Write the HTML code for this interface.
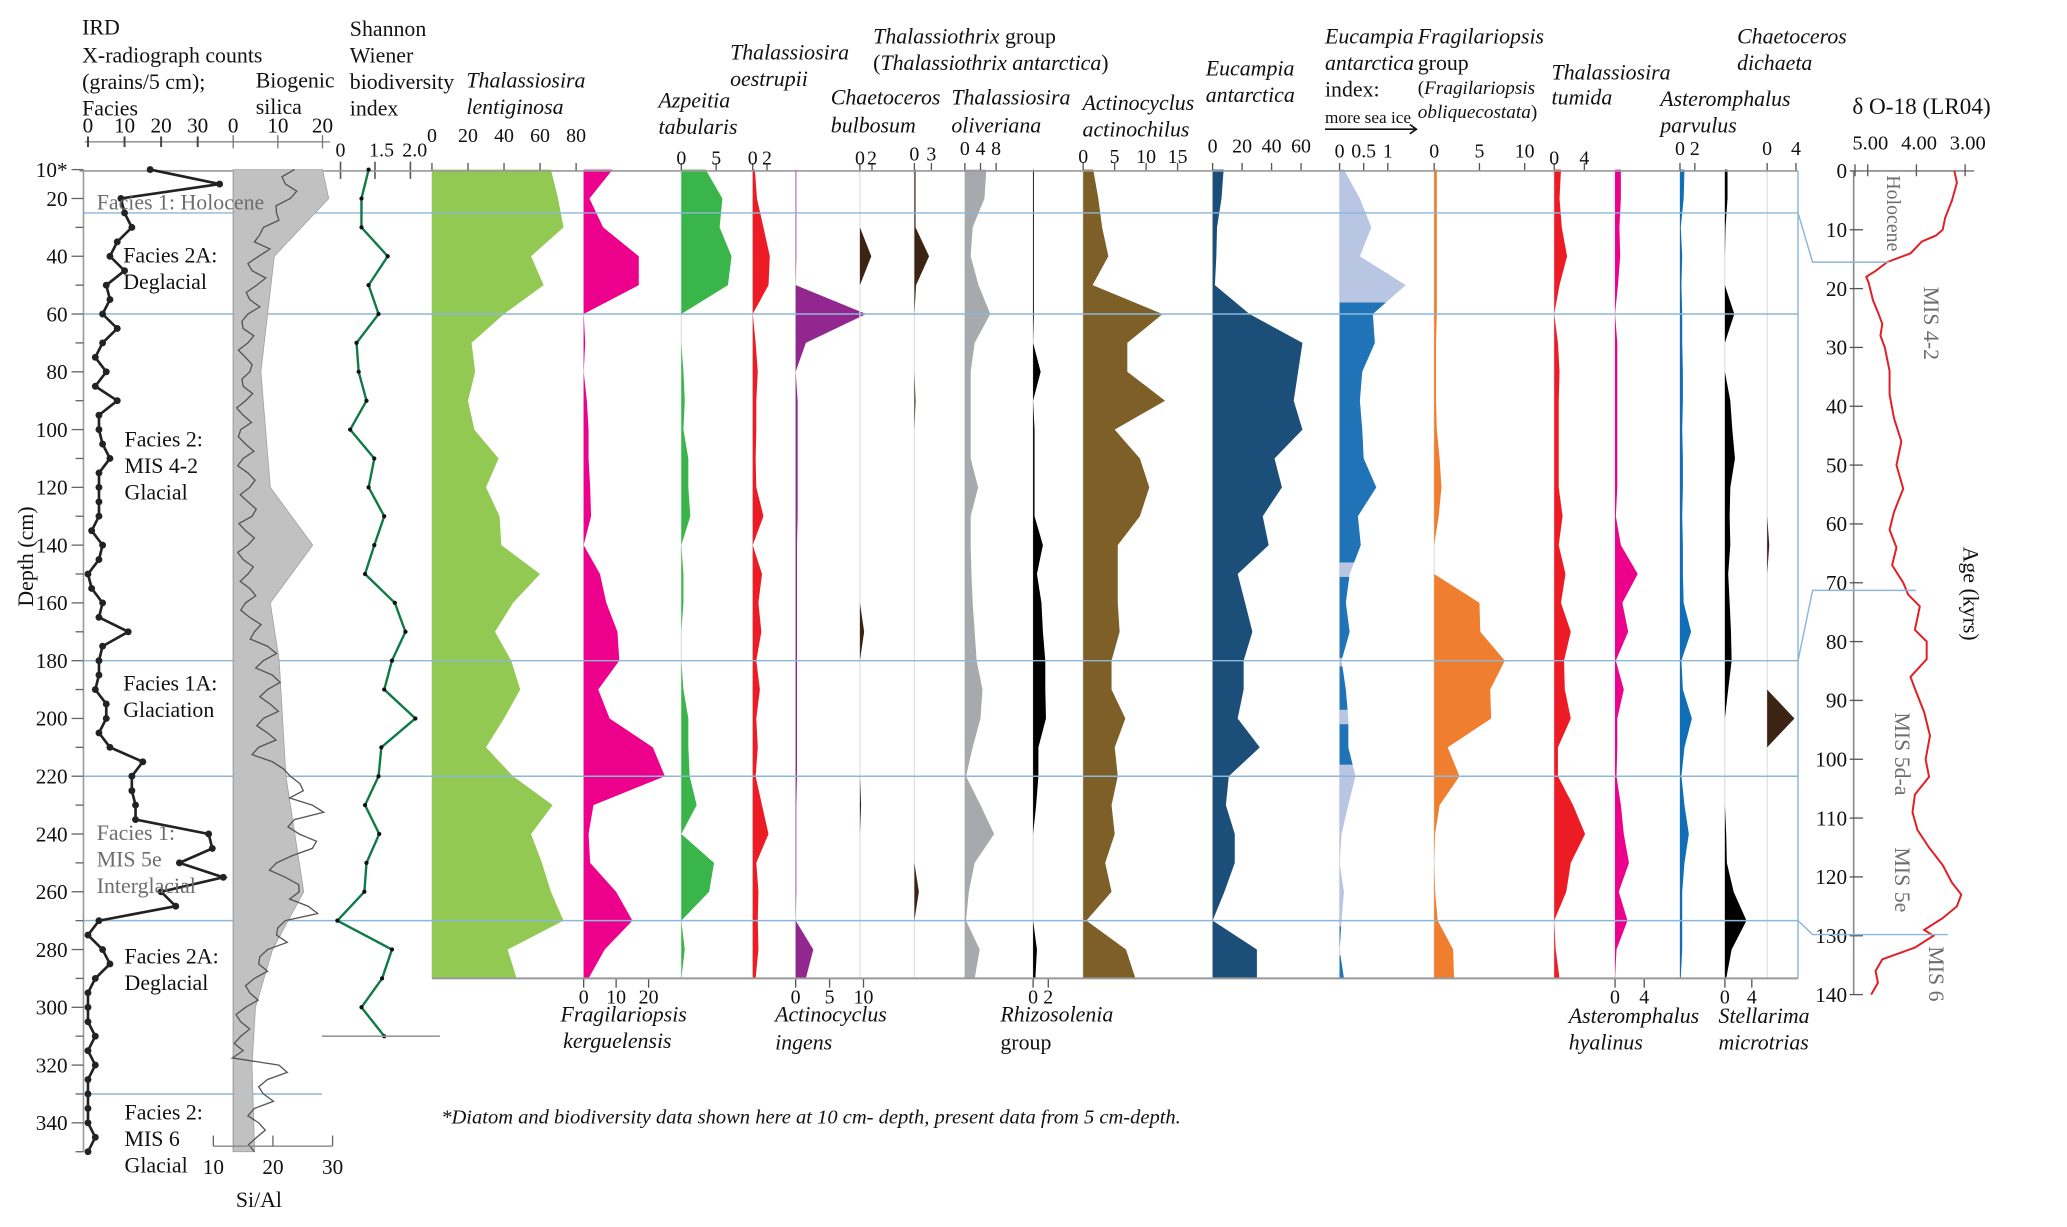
<!DOCTYPE html>
<html><head><meta charset="utf-8"><title>Core diatom stratigraphy</title>
<style>
html,body{margin:0;padding:0;background:#fff;}
svg{display:block;font-family:"Liberation Serif",serif;}
.t{font-size:16.5px;fill:#111;}
.n{font-size:15px;fill:#111;}
.i{font-style:italic;}
.g{fill:#6d6d6d;}
</style></head>
<body>
<svg id="chart" xmlns="http://www.w3.org/2000/svg" width="2067" height="1227" viewBox="0 0 1560 926" preserveAspectRatio="none">
<g id="marks"></g>
<g id="texts">
<text class="t" x="62" y="26">IRD</text>
<text class="t" x="62" y="47">X-radiograph counts</text>
<text class="t" x="62" y="67">(grains/5 cm);</text>
<text class="t" x="62" y="87">Facies</text>
<text class="t" x="193" y="66">Biogenic</text>
<text class="t" x="193" y="86">silica</text>
<text class="t" x="264" y="27">Shannon</text>
<text class="t" x="264" y="47">Wiener</text>
<text class="t" x="264" y="67">biodiversity</text>
<text class="t" x="264" y="87">index</text>
<text class="t i" x="352" y="66">Thalassiosira</text>
<text class="t i" x="352" y="86">lentiginosa</text>
<text class="t i" x="497" y="81">Azpeitia</text>
<text class="t i" x="497" y="101">tabularis</text>
<text class="t i" x="551" y="45">Thalassiosira</text>
<text class="t i" x="551" y="65">oestrupii</text>
<text class="t" x="659" y="33"><tspan class="i">Thalassiothrix</tspan> group</text>
<text class="t" x="659" y="53">(<tspan class="i">Thalassiothrix antarctica</tspan>)</text>
<text class="t i" x="627" y="79">Chaetoceros</text>
<text class="t i" x="627" y="100">bulbosum</text>
<text class="t i" x="718" y="79">Thalassiosira</text>
<text class="t i" x="718" y="100">oliveriana</text>
<text class="t i" x="817" y="83">Actinocyclus</text>
<text class="t i" x="817" y="103">actinochilus</text>
<text class="t i" x="910" y="57">Eucampia</text>
<text class="t i" x="910" y="77">antarctica</text>
<text class="t i" x="1000" y="33">Eucampia</text>
<text class="t i" x="1000" y="53">antarctica</text>
<text class="t" x="1000" y="73">index:</text>
<text class="n" x="1000" y="93" style="font-size:13px">more sea ice</text>
<text class="t i" x="1070" y="33">Fragilariopsis</text>
<text class="t" x="1070" y="53">group</text>
<text class="t" x="1070" y="71" style="font-size:14.5px">(<tspan class="i">Fragilariopsis</tspan></text>
<text class="t i" x="1070" y="89" style="font-size:14.5px">obliquecostata<tspan style="font-style:normal">)</tspan></text>
<text class="t i" x="1171" y="60">Thalassiosira</text>
<text class="t i" x="1171" y="79">tumida</text>
<text class="t i" x="1253" y="80">Asteromphalus</text>
<text class="t i" x="1253" y="100">parvulus</text>
<text class="t i" x="1311" y="33">Chaetoceros</text>
<text class="t i" x="1311" y="53">dichaeta</text>
<text class="t" x="1398" y="86" style="font-size:17.5px">δ O-18 (LR04)</text>
<text class="t i" x="423" y="771">Fragilariopsis</text>
<text class="t i" x="425" y="791">kerguelensis</text>
<text class="t i" x="585" y="771">Actinocyclus</text>
<text class="t i" x="585" y="792">ingens</text>
<text class="t i" x="755" y="771">Rhizosolenia</text>
<text class="t" x="755" y="792">group</text>
<text class="t i" x="1184" y="772">Asteromphalus</text>
<text class="t i" x="1184" y="792">hyalinus</text>
<text class="t i" x="1297" y="772">Stellarima</text>
<text class="t i" x="1297" y="792">microtrias</text>
<text class="t i" x="333" y="848" style="font-size:15.5px">*Diatom and biodiversity data shown here at 10 cm- depth, present data from 5 cm-depth.</text>
<text class="t" x="178" y="911">Si/Al</text>
<text class="t" transform="translate(25,420) rotate(-90)" text-anchor="middle">Depth (cm)</text>
<text class="t" transform="translate(1482,448) rotate(90)" text-anchor="middle">Age (kyrs)</text>
<text class="t g" transform="translate(1424,161) rotate(90)" text-anchor="middle" style="font-size:15px">Holocene</text>
<text class="t g" transform="translate(1452,244) rotate(90)" text-anchor="middle">MIS 4-2</text>
<text class="t g" transform="translate(1430,569) rotate(90)" text-anchor="middle">MIS 5d-a</text>
<text class="t g" transform="translate(1430,664) rotate(90)" text-anchor="middle">MIS 5e</text>
<text class="t g" transform="translate(1456,735) rotate(90)" text-anchor="middle">MIS 6</text>
<text class="t g" x="73" y="158">Facies 1: Holocene</text>
<text class="t" x="93" y="198">Facies 2A:</text>
<text class="t" x="93" y="218">Deglacial</text>
<text class="t" x="94" y="337">Facies 2:</text>
<text class="t" x="94" y="357">MIS 4-2</text>
<text class="t" x="94" y="377">Glacial</text>
<text class="t" x="93" y="521">Facies 1A:</text>
<text class="t" x="93" y="541">Glaciation</text>
<text class="t g" x="73" y="634">Facies 1:</text>
<text class="t g" x="73" y="654">MIS 5e</text>
<text class="t g" x="73" y="674">Interglacial</text>
<text class="t" x="94" y="727">Facies 2A:</text>
<text class="t" x="94" y="747">Deglacial</text>
<text class="t" x="94" y="845">Facies 2:</text>
<text class="t" x="94" y="865">MIS 6</text>
<text class="t" x="94" y="885">Glacial</text>
</g>
</svg>
<script>
const depths = [10,20,30,40,50,60,70,80,90,100,110,120,130,140,150,160,170,180,190,200,210,220,230,240,250,260,270,280,290];
const lentiginosa = [66,70,73,55,62,40,22,24,20,23.5,37,30,37.5,38.5,60,45,35,44,49,40,30,45,67,55,61,66,73,42,47];
const kerguelensis = [8.9,1.8,6,17,17,0,0.5,0,1,1.5,1.5,2,2.3,0,5,7,10.4,11,4.5,8,21.3,25,3,1.5,2,10,15,6.5,1.5];
const azpeitia = [3.5,5.9,5.5,7.2,6.7,0,0,0.3,0.5,0.3,1,1,1.3,0,0.3,0.3,0,0,0.3,1,1,1.2,2.2,0,4.7,4,0,0.5,0];
const oestrupii = [0.3,0.6,1.5,2.4,2.2,0,0.4,0.7,0.5,0.5,0.4,0.5,1.5,0,1.3,0.8,1.2,0.5,1,0.5,0.7,0.4,1.3,2.2,0.5,0.8,0.7,0.8,0.4];
const ingens = [0.1,0.1,0.1,0.1,0,10.4,1.5,0,0.3,0.3,0.3,0.3,0.3,0.2,0.2,0.2,0.2,0.2,0.2,0.2,0.2,0.2,0.1,0.1,0.1,0.1,0,2.6,1.5];
const bulbosum = [0,0,0,1.9,0,0,0,0,0,0,0,0,0,0,0,0,0.7,0,0,0,0,0,0.2,0,0,0,0,0,0];
const thalassiothrix = [0.2,0.2,0.2,2.6,0.3,0,0,0,0.2,0,0,0,0,0,0,0,0,0,0,0,0,0,0,0,0,0.8,0,0,0];
const oliveriana = [5.5,5,2,1.5,3.5,6.5,2.5,1.5,1.5,1.5,1.5,3.4,1.5,1.5,1.7,2,2.5,3,4.5,4,2,0.3,4,7.5,2.5,1,0.3,3.8,2.5];
const rhizosolenia = [0.1,0.1,0.1,0.1,0.1,0.1,0,1,0,0.2,0.2,0.2,0.2,1.3,0.5,1.1,1.3,1.6,1.6,1.7,0.7,0.7,0.4,0,0,0,0,0.5,0.3];
const actinochilus = [1.6,2.4,3,4,1.5,12.6,7,7,13,5,9,10.5,9,5.5,5.5,5.5,5.8,4.5,4.5,6.7,5,5.5,4.5,5,3.5,4.5,0.5,6.8,8.3];
const eucampia = [7.5,6,3,2.5,1.5,25,61,58,55,61,42,47,34,38,17,22,27,21,21,17,32,11,9,15,15,8,0,30,30];
const eIndex = [0.09,0.42,0.66,0.42,1.37,0.69,0.73,0.47,0.42,0.47,0.5,0.76,0.38,0.44,0.21,0.13,0.21,0.04,0.13,0.18,0.18,0.33,0.18,0.04,0,0.09,0.04,0,0.09];
const eIndexDarkFrom = [56,151,182,202,272,282];
const eIndexDarkTo = [146,179,197,216,279,290];
const fragGroup = [0.3,0.3,0.3,0.3,0.3,0.3,0.2,0.2,0.2,0.3,0.6,0.8,0.5,0,0,5,5.1,7.8,6.2,6.3,1.5,2.8,0.6,0.1,0,0.1,0.4,2.1,2.2];
const tumida = [0.9,0.7,1,1.7,0.7,0,0.5,0.7,0.6,0.6,0.6,0.6,1.1,0.6,1.5,0.9,2.2,1.3,1.4,2.2,0.5,0.5,2.5,4.1,2.2,1.6,0,0.2,0.7];
const hyalinus = [0.8,0.8,0.6,0.7,0.4,0,0.3,0.3,0.3,0.3,0.3,0.3,0.1,0.8,3.1,1,1.8,0.1,1.2,0.3,0.3,0.2,0.8,1.2,1.9,0.5,1.7,0.2,0];
const parvulus = [0.6,0.5,0.1,0.3,0.2,0.3,0.3,0.4,0.4,0.3,0.4,0.4,0.3,0.4,0.4,0.5,1.5,0.2,0.4,1.6,0.6,0.2,0.6,1.2,0.6,0.3,0.3,0.3,0.1];
const stellarima = [0.4,0.4,0.1,0,0,1.4,0,0,0.8,1.1,1.5,0.8,0.7,0.8,0.5,0.7,0.9,1,0.5,0,0,0,0,0.2,0.3,1.3,3.2,1,0.2];
const dichaeta = [0,0,0,0,0,0,0,0,0,0,0,0,0,0.3,0,0,0,0,0,3.8,0,0,0,0,0,0,0,0,0];

const shannonDepths = [10,20,30,40,50,60,70,80,90,100,110,120,130,140,150,160,170,180,190,200,210,220,230,240,250,260,270,280,290,300,310];
const shannon = [1.41,1.31,1.31,1.68,1.41,1.55,1.24,1.27,1.38,1.15,1.49,1.41,1.63,1.49,1.36,1.78,1.93,1.74,1.63,2.07,1.59,1.55,1.36,1.56,1.38,1.35,0.97,1.74,1.6,1.31,1.63];

const irdStart = 10, irdStep = 5;
const ird = [17,36,9,10,12,8,6,10,5,6,4,8,4,2,5,2,8,3,3,4,6,3,3,3,3,1,4,3,0,1,4,3,11,4,3,3,2,5,5,3,6,15,12,12,13,13,33,34,25,37,20,24,3,0,4,6,2,0,0,0,2,0,2,0,0,0,0,2,0];

const silicaDepths = [10,20,40,80,120,140,160,180,220,260,280,300,320,350];
const silica = [20,21.4,9.2,6.2,8.3,17.8,8.3,10.3,11.8,15.8,8.8,5,4.2,4.8];

const siAl = [23.6,22.1,22.9,20.6,18.4,16.9,17.6,16.5,17.3,16.1,15.8,15,15.8,15.4,16.1,15,15.4,15,14.6,15.4,15,15.8,16.1,15.8,16.5,15.4,15.8,15,15.8,16.1,15.4,16.1,16.9,19.1,18.4,19.9,19.1,19.5,18.4,19.1,17.6,19.9,22.9,25.1,26.6,23.6,24.4,26.6,20.6,22.1,24.4,25.9,22.1,20.6,19.1,17.6,16.9,16.1,15.4,14.6,14.6,15,21,19.1,18.4,16.9,17.6,17.3,16.9];
const siAlMid = [21.5,24,20.5,21,17.8,19.5,15.8,18.8,15.5,17.8,14.8,16.8,14.2,16.5,14.8,16.6,13.9,16.4,14.2,16.8,14.1,17,14.5,17.2,14.3,16.9,14.1,16.7,14.5,17.1,14.6,18,16.2,20.6,17.1,21.2,17.8,20.9,17.3,20.5,16.5,21.8,24.5,22.8,28.5,22.5,27.3,23.2,19.4,24.3,22.8,27.5,20.8,22.4,17.8,19.1,15.4,17.5,13.8,16.1,13.5,13.2,22.4,17.6,20.1,15.8,18.7,15.9];

const ages = [0,2,5,8,10,11,12,14,15.5,17,18,19,22,24,26,28,30,34,38,42,46,50,54,58,61,64,67,70,72,74,76,78,80,83,86,88,92,96,100,103,106,109,112,115,118,121,123,125,127,129,130,132,134,136,138,140];
const d18O = [3.22,3.17,3.27,3.41,3.46,3.6,3.89,4.12,4.6,4.84,5.03,4.98,4.89,4.79,4.7,4.74,4.65,4.55,4.55,4.46,4.31,4.41,4.27,4.46,4.55,4.41,4.5,4.27,4.17,3.93,3.98,4.03,3.79,3.79,4.12,4.03,3.84,3.72,3.81,3.74,4.03,4.08,3.98,3.74,3.46,3.27,3.08,3.17,3.46,3.84,3.65,4.03,4.7,4.84,4.79,4.93];

const faciesBounds = [25,60,180,220,270];
const depthTickLabels = ['10*','20','40','60','80','100','120','140','160','180','200','220','240','260','280','300','320','340'];
const ageTicks = [0,10,20,30,40,50,60,70,80,90,100,110,120,130,140];
const d18OTicks = [5,4,3];
const d18OTickLabels = ['5.00','4.00','3.00'];

const NS = 'http://www.w3.org/2000/svg';
const G = document.getElementById('marks');
const Y = d => 128 + (d - 10) * 2.18;
const AY = a => 129 + a * 4.44;
const OX = v => 1409.6 + (5 - v) * 36.75;
function mk(tag, attrs, parent) {
  const e = document.createElementNS(NS, tag);
  for (const k in attrs) e.setAttribute(k, attrs[k]);
  (parent || G).appendChild(e);
  return e;
}
function line(x1, y1, x2, y2, stroke, w) {
  const l = mk('line', {x1, y1, x2, y2, stroke, 'stroke-width': w});
  
  
  return l;
}
function label(x, y, txt, anchor, size) {
  const t = mk('text', {x, y, 'text-anchor': anchor || 'middle', 'font-size': size || 15, fill: '#111'});
  t.textContent = txt;
  
  
  return t;
}

// Diatom panels
const panels = [
  {name:'lentiginosa', vals:lentiginosa, x0:326, s:1.36, color:'#92c953', ticks:[0,20,40,60,80], top:true, ly:107},
  {name:'kerguelensis', vals:kerguelensis, x0:440.5, s:2.45, color:'#ec008c', ticks:[0,10,20], top:false},
  {name:'azpeitia', vals:azpeitia, x0:514.2, s:5.26, color:'#39b54a', ticks:[0,5], top:true, ly:124},
  {name:'oestrupii', vals:oestrupii, x0:568.1, s:5.39, color:'#ed1c24', ticks:[0,2], top:true, ly:124},
  {name:'ingens', vals:ingens, x0:600.5, s:5.12, color:'#92278f', ticks:[0,5,10], top:false},
  {name:'bulbosum', vals:bulbosum, x0:649, s:4.55, color:'#3c2415', ticks:[0,2], top:true, ly:124},
  {name:'thalassiothrix', vals:thalassiothrix, x0:690.1, s:4.28, color:'#3c2415', ticks:[0,3], top:true, ly:121},
  {name:'oliveriana', vals:oliveriana, x0:728.2, s:2.95, color:'#a7a9ac', ticks:[0,4,8], top:true, ly:117},
  {name:'rhizosolenia', vals:rhizosolenia, x0:779.7, s:5.73, color:'#000000', ticks:[0,2], top:false},
  {name:'actinochilus', vals:actinochilus, x0:817.5, s:4.75, color:'#7d5f27', ticks:[0,5,10,15], top:true, ly:123},
  {name:'eucampia', vals:eucampia, x0:915.2, s:1.112, color:'#1b4f7a', ticks:[0,20,40,60], top:true, ly:115},
  {name:'eucampia-index', vals:eIndex, x0:1011, s:36.4, color:'#b8c6e4', ticks:[0,0.5,1], top:true, ly:119},
  {name:'fragilariopsis-group', vals:fragGroup, x0:1082.4, s:6.83, color:'#ef7f2e', ticks:[0,5,10], top:true, ly:119},
  {name:'tumida', vals:tumida, x0:1173, s:5.69, color:'#ed1c24', ticks:[0,4], top:true, ly:124},
  {name:'hyalinus', vals:hyalinus, x0:1218.9, s:5.51, color:'#ec008c', ticks:[0,4], top:false},
  {name:'parvulus', vals:parvulus, x0:1267.9, s:5.6, color:'#0f6eb5', ticks:[0,2], top:true, ly:117},
  {name:'stellarima', vals:stellarima, x0:1301.8, s:5.08, color:'#000000', ticks:[0,4], top:false},
  {name:'dichaeta', vals:dichaeta, x0:1333.7, s:5.43, color:'#3c2415', ticks:[0,4], top:true, ly:117}
];
const BOT = Y(290);
panels.forEach(p => {
  const b = line(p.x0, 129, p.x0, BOT, '#e2e2e2', 1);
  
  let pts = p.x0 + ',' + Y(depths[0]) + ' ';
  p.vals.forEach((v, i) => { pts += (p.x0 + v * p.s).toFixed(1) + ',' + Y(depths[i]).toFixed(1) + ' '; });
  pts += p.x0 + ',' + Y(depths[depths.length - 1]);
  const poly = mk('polygon', {points: pts, fill: p.color});
  
  
  if (p.name === 'eucampia-index') {
    const cp = mk('clipPath', {id: 'eiclip'});
    mk('polygon', {points: pts}, cp);
    eIndexDarkFrom.forEach((d0, k) => {
      const r = mk('rect', {x: p.x0 - 1, y: Y(d0), width: 60, height: Y(eIndexDarkTo[k]) - Y(d0), fill: '#2173b8', 'clip-path': 'url(#eiclip)'});
      
      
    });
  }
  p.ticks.forEach(t => {
    const x = p.x0 + t * p.s;
    if (p.top) { line(x, 129, x, 123, '#555', 1); label(x, p.ly, String(t)); }
    else { line(x, BOT, x, BOT + 7, '#555', 1); label(x, BOT + 19, String(t)); }
  });
});
line(326, 129, 1357, 129, '#999', 1.2);
line(326, BOT, 1357, BOT, '#999', 1.5);

// Depth axis
line(63, 128, 63, Y(350), '#999', 1.2);
line(60, 129, 245, 129, '#999', 1.2);
for (let d = 10; d <= 350; d += 10) {
  const major = (d === 10) || (d % 20 === 0);
  line(major ? 54 : 57, Y(d), 63, Y(d), '#666', 1);
}
depthTickLabels.forEach((t, i) => {
  const d = i === 0 ? 10 : i * 20;
  label(51, Y(d) + 5.5, t, 'end', 16);
});

// IRD / silica top axes
line(64, 107, 249, 107, '#999', 1.2);
[0,10,20,30].forEach(t => { const x = 66.4 + t * 2.76; line(x, 103, x, 111, '#444', 1.5); label(x, 100, String(t), 'middle', 16); });
[0,10,20].forEach(t => { const x = 176 + t * 3.37; line(x, 102, x, 112, '#777', 1); label(x, 100, String(t), 'middle', 16); });

// facies lines
faciesBounds.forEach(d => {
  const l = line(63, Y(d), 1357, Y(d), '#8cb6da', 1.1);
  
});
line(63, Y(330), 243, Y(330), '#8cb6da', 1.1);
line(1357, 129, 1357, BOT, '#8cb6da', 1.1);

// biogenic silica envelope
let sp = '176,' + Y(10) + ' ';
silicaDepths.forEach((d, i) => { sp += (176 + silica[i] * 3.37).toFixed(1) + ',' + Y(d).toFixed(1) + ' '; });
sp += '176,' + Y(350);
const sil = mk('polygon', {points: sp, fill: '#c1c1c1', stroke: '#a0a0a0', 'stroke-width': 0.6});


line(176, 129, 176, Y(350), '#a0a0a0', 0.8);

// Si/Al line
let sa = '';
siAl.forEach((v, i) => {
  const d = 10 + i * 5;
  sa += (161 + (v - 10) * 4.5).toFixed(1) + ',' + Y(d).toFixed(1) + ' ';
  if (i < siAlMid.length) sa += (161 + (siAlMid[i] - 10) * 4.5).toFixed(1) + ',' + Y(d + 2.5).toFixed(1) + ' ';
});
const sal = mk('polyline', {points: sa, fill: 'none', stroke: '#555', 'stroke-width': 1});


line(161, 865, 251, 865, '#888', 1);
[10,20,30].forEach(t => { const x = 161 + (t - 10) * 4.5; line(x, 857, x, 865, '#666', 1); label(x, 886, String(t), 'middle', 16); });

// IRD line
let ip = '';
ird.forEach((v, i) => { ip += (66.4 + v * 2.76).toFixed(1) + ',' + Y(irdStart + i * irdStep).toFixed(1) + ' '; });
const irl = mk('polyline', {points: ip, fill: 'none', stroke: '#222', 'stroke-width': 2});


ird.forEach((v, i) => {
  const c = mk('circle', {cx: 66.4 + v * 2.76, cy: Y(irdStart + i * irdStep), r: 2.6, fill: '#222'});
  
  
});

// Shannon
const SX = v => 283 + (v - 1.5) * 53.5;
line(257, 122, 257, 135, '#555', 1.2);
[[1.5,'1.5'],[2.0,'2.0']].forEach(t => { line(SX(t[0]), 122, SX(t[0]), 135, '#555', 1.2); });
label(257, 118, '0'); label(288, 118, '1.5'); label(313, 118, '2.0');
line(245, 129, 326, 129, '#999', 1.2);
let shp = '';
shannon.forEach((v, i) => { shp += SX(v).toFixed(1) + ',' + Y(shannonDepths[i]).toFixed(1) + ' '; });
const shl = mk('polyline', {points: shp, fill: 'none', stroke: '#0e7a46', 'stroke-width': 1.8});


shannon.forEach((v, i) => {
  const c = mk('circle', {cx: SX(v), cy: Y(shannonDepths[i]), r: 1.6, fill: '#111'});
  
  
});
line(243, Y(310), 332, Y(310), '#999', 1.2);

// sea ice arrow
line(1000, 97.5, 1069, 97.5, '#111', 1.2);
mk('polyline', {points: '1064,94 1069,97.5 1064,101', fill: 'none', stroke: '#111', 'stroke-width': 1.2});

// Age axis & d18O
line(1399, 129, 1399, AY(140), '#888', 1.2);
ageTicks.forEach(a => { line(1396, AY(a), 1406, AY(a), '#555', 1); label(1394, AY(a) + 5.5, String(a), 'end', 16); });
line(1399, 129, 1490, 129, '#888', 1.2);
d18OTicks.forEach((v, i) => { line(OX(v), 124, OX(v), 133, '#555', 1); label(OX(v) + 2, 113, d18OTickLabels[i], 'middle', 15.5); });
line(1400, 124, 1400, 133, '#555', 1);
let op = '';
ages.forEach((a, i) => { op += OX(d18O[i]).toFixed(1) + ',' + AY(a).toFixed(1) + ' '; });
const ol = mk('polyline', {points: op, fill: 'none', stroke: '#e31e24', 'stroke-width': 1.5});



// tie lines depth -> age
const tieDepth = [25,180,270];
const tieAge = [15.5,71.3,129.8];
const tieEnd = [1426,1446,1470];
tieDepth.forEach((d, i) => {
  const pl = mk('polyline', {points: `1357,${Y(d)} 1368,${AY(tieAge[i])} ${tieEnd[i]},${AY(tieAge[i])}`, fill: 'none', stroke: '#8cb6da', 'stroke-width': 1.1});
  
  
});
</script>
</body></html>
